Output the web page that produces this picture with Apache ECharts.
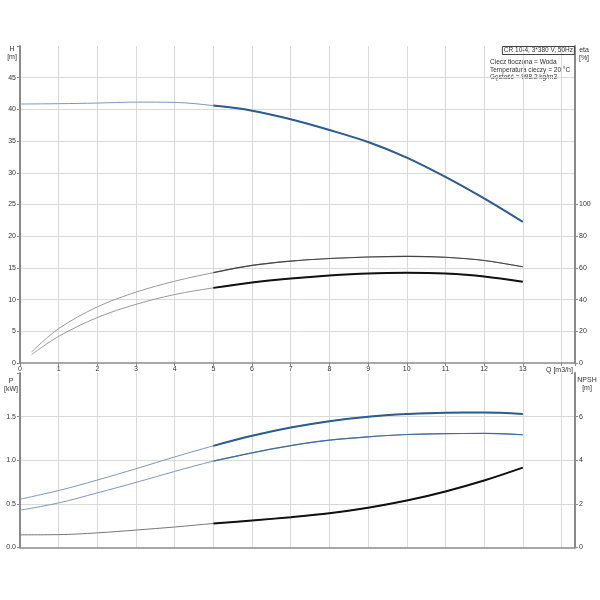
<!DOCTYPE html>
<html>
<head>
<meta charset="utf-8">
<script src="https://cdn.jsdelivr.net/npm/echarts@6/dist/echarts.min.js"></script>
<style>
html,body{margin:0;padding:0;background:#fff;}
#c{width:600px;height:600px;}
</style>
</head>
<body>
<div id="c"></div>
<script>
// Flow (m3/h)
var flowQ = [0,1,2,3,4,5,6,7,8,9,10,11,12,13];
// Head H (m)
var headH = [40.85,40.9,41.0,41.15,41.1,40.6,39.8,38.45,36.75,34.85,32.4,29.35,25.95,22.25];
// Efficiency curves (%)
var etaQ = [0.3,1,2,3,4,5,6,7,8,9,10,11,12,13];
var etaPump = [7.0,21.7,35.4,44.7,51.6,57.0,61.6,64.3,65.9,66.9,67.3,66.7,64.7,60.7];
var etaTotal = [5.3,16.8,28.7,37.0,43.2,47.4,50.8,53.3,55.2,56.5,56.9,56.4,54.6,51.2];
// Power (kW)
var powerP1 = [0.554,0.653,0.773,0.903,1.038,1.165,1.28,1.375,1.448,1.499,1.529,1.545,1.546,1.53];
var powerP2 = [0.427,0.511,0.626,0.746,0.872,0.99,1.085,1.167,1.23,1.269,1.295,1.305,1.307,1.292];
// NPSH (m)
var npsh = [0.58,0.59,0.67,0.8,0.94,1.1,1.24,1.39,1.57,1.82,2.15,2.57,3.07,3.66];
// Ticks
var xTickLabels = [0,1,2,3,4,5,6,7,8,9,10,11,12,13];
var hTicks = [0,5,10,15,20,25,30,35,40,45];
var etaTicks = [0,20,40,60,80,100];
var pTicks = [0,0.5,1.0,1.5];
var npshTicks = [0,2,4,6];
var dutyStart = 5; // start of highlighted operating range (index)

function pairs(xs, ys, from){
  var out = [];
  for (var i = (from||0); i < xs.length; i++) out.push([xs[i], ys[i]]);
  return out;
}
function withEndLabel(arr, text, pos, color){
  var d = arr.slice(0, arr.length-1);
  d.push({value: arr[arr.length-1], label:{show:true, formatter:text, position:pos, color:color, fontSize:7, fontFamily:'Liberation Sans', distance:2}});
  return d;
}

var FONT = 'Liberation Sans';
var gridColor = '#dadada';
var axisColor = '#8a8a8a';
var labelStyle = {fontSize:7, color:'#333', fontFamily:FONT};
var SM = 0.35;

function xAxis(idx, showLabels){
  return {
    type:'value', gridIndex:idx, min:0, max:14.35, interval:1,
    axisLine:{show:true, onZero:false, lineStyle:{color:axisColor, width:1.5}},
    axisTick:{show:showLabels, length:3, lineStyle:{color:axisColor}},
    axisLabel:{show:showLabels, margin:3, fontSize:7, color:'#333', fontFamily:FONT,
      formatter:function(v){ return xTickLabels.indexOf(v) >= 0 ? String(v) : ''; }},
    splitLine:{show:true, showMinLine:false, showMaxLine:false, lineStyle:{color:gridColor, width:1}}
  };
}
function line(xi, yi, data, color, width){
  return {type:'line', xAxisIndex:xi, yAxisIndex:yi, data:data, smooth:SM,
          symbol:'none', silent:true, lineStyle:{color:color, width:width}};
}
function txt(x, y, text, align){
  return {type:'text', x:x, y:y, style:{text:text, fill:'#333', font:'7px "Liberation Sans"', align:align||'left', lineHeight:8}};
}

var chart = echarts.init(document.getElementById('c'), null, {renderer:'canvas'});
var option = {
  animation:false,
  backgroundColor:'#fff',
  title:{
    text:'CR 10-4, 3*380 V, 50Hz', right:25, top:46,
    borderColor:'#444', borderWidth:1, padding:[1,2,1,2],
    textStyle:{fontSize:6.5, fontWeight:'normal', color:'#333', fontFamily:FONT}
  },
  grid:[
    {left:20, right:25, top:46, height:317},
    {left:20, right:25, top:373, height:174.5}
  ],
  xAxis:[ xAxis(0,true), xAxis(1,false) ],
  yAxis:[
    {type:'value', gridIndex:0, position:'left', min:0, max:50, interval:5,
     axisLine:{show:true, onZero:false, lineStyle:{color:axisColor, width:2}},
     axisTick:{show:true, length:3, lineStyle:{color:axisColor}},
     axisLabel:Object.assign({margin:4, formatter:function(v){return hTicks.indexOf(v)>=0?String(v):'';}}, labelStyle),
     splitLine:{show:true, showMinLine:false, showMaxLine:false, lineStyle:{color:gridColor, width:1}}},
    {type:'value', gridIndex:0, position:'right', min:0, max:200, interval:20,
     axisLine:{show:true, onZero:false, lineStyle:{color:axisColor, width:2}},
     axisTick:{show:true, length:3, customValues:etaTicks, lineStyle:{color:axisColor}},
     axisLabel:Object.assign({margin:4, customValues:etaTicks, formatter:function(v){return etaTicks.indexOf(v)>=0?String(v):'';}}, labelStyle),
     splitLine:{show:false}},
    {type:'value', gridIndex:1, position:'left', min:0, max:2, interval:0.5,
     axisLine:{show:true, onZero:false, lineStyle:{color:axisColor, width:2}},
     axisTick:{show:true, length:3, lineStyle:{color:axisColor}},
     axisLabel:Object.assign({margin:4, formatter:function(v){return pTicks.indexOf(v)>=0?v.toFixed(1):'';}}, labelStyle),
     splitLine:{show:true, showMinLine:false, showMaxLine:false, lineStyle:{color:gridColor, width:1}}},
    {type:'value', gridIndex:1, position:'right', min:0, max:8, interval:2,
     axisLine:{show:true, onZero:false, lineStyle:{color:axisColor, width:2}},
     axisTick:{show:true, length:3, customValues:npshTicks, lineStyle:{color:axisColor}},
     axisLabel:Object.assign({margin:4, customValues:npshTicks, formatter:function(v){return npshTicks.indexOf(v)>=0?String(v):'';}}, labelStyle),
     splitLine:{show:false}}
  ],
  series:[
    line(0,0, pairs(flowQ, headH), '#7d98bb', 1),
    line(0,0, pairs(flowQ, headH, dutyStart), '#2c5c90', 2),
    line(0,1, pairs(etaQ, etaPump), '#9a9a9a', 1),
    line(0,1, pairs(etaQ, etaPump, dutyStart), '#444', 1.1),
    line(0,1, pairs(etaQ, etaTotal), '#9a9a9a', 1),
    line(0,1, pairs(etaQ, etaTotal, dutyStart), '#111', 2),
    line(1,2, pairs(flowQ, powerP1), '#7d98bb', 1),
    line(1,2, withEndLabel(pairs(flowQ, powerP1, dutyStart), 'P1', 'top', '#2c5c90'), '#2c5c90', 2),
    line(1,2, pairs(flowQ, powerP2), '#7d98bb', 1),
    line(1,2, withEndLabel(pairs(flowQ, powerP2, dutyStart), 'P2', 'bottom', '#2c5c90'), '#3f6c9f', 1.2),
    line(1,3, pairs(flowQ, npsh), '#777', 1),
    line(1,3, pairs(flowQ, npsh, dutyStart), '#111', 2)
  ],
  graphic:[
    txt(12, 45, 'H\n[m]', 'center'),
    txt(584, 46, 'eta\n[%]', 'center'),
    txt(11, 377, 'P\n[kW]', 'center'),
    txt(587, 376, 'NPSH\n[m]', 'center'),
    txt(546, 366, 'Q [m3/h]', 'left'),
    {type:'text', x:490, y:59, style:{text:'Ciecz tłoczona = Woda\nTemperatura cieczy = 20 °C\nGęstość = 998.2 kg/m3', fill:'#333', font:'6.5px "Liberation Sans"', lineHeight:7.2}}
  ]
};
chart.setOption(option);
</script>
</body>
</html>
